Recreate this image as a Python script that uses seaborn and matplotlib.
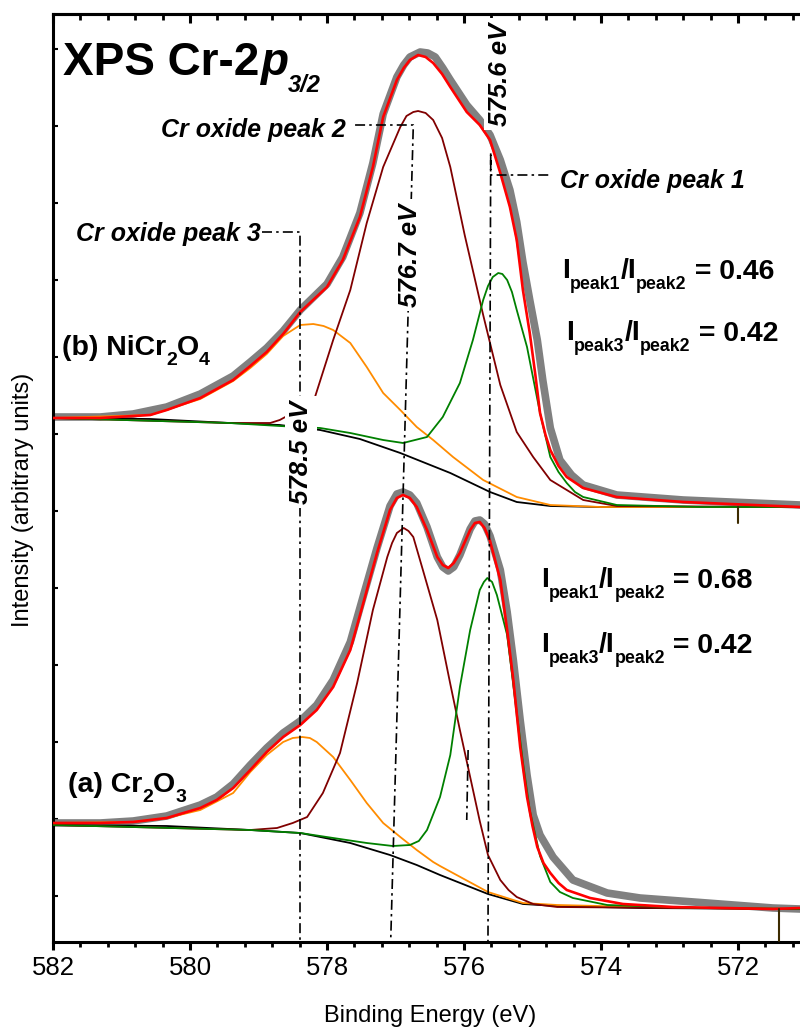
import numpy as np
import matplotlib
matplotlib.use("Agg")
import matplotlib.pyplot as plt
import seaborn as sns
from matplotlib.ticker import MultipleLocator, FixedLocator

# (b) NiCr2O4, upper spectrum
b_data_e = [582.00, 581.31, 580.83, 580.34, 579.85, 579.37, 579.12, 578.88, 578.64, 578.39,
            578.00, 577.77, 577.52, 577.33, 577.18, 576.98, 576.88, 576.79, 576.64, 576.53,
            576.42, 576.31, 576.20, 575.96, 575.77, 575.62, 575.47, 575.33, 575.23, 575.14,
            575.04, 574.93, 574.85, 574.74, 574.60, 574.43, 574.26, 573.77, 572.80, 571.09]
b_data_i = [52.5, 52.5, 52.8, 53.5, 54.8, 56.6, 58.0, 59.4, 61.1, 63.2,
            65.8, 68.5, 72.9, 77.9, 82.8, 86.5, 87.7, 88.5, 89.0, 88.9,
            88.5, 87.4, 86.2, 83.7, 82.2, 80.7, 78.2, 75.2, 72.0, 68.0,
            64.2, 60.2, 56.2, 51.4, 48.2, 46.7, 45.7, 44.7, 44.2, 43.7]

b_fit_e = [582.00, 581.31, 580.58, 580.34, 579.85, 579.37, 579.12, 578.88, 578.64, 578.39,
           578.00, 577.77, 577.52, 577.33, 577.18, 576.98, 576.88, 576.79, 576.67, 576.56,
           576.45, 576.32, 576.20, 575.96, 575.77, 575.62, 575.47, 575.33, 575.23, 575.14,
           575.04, 574.96, 574.89, 574.81, 574.74, 574.62, 574.50, 574.26, 573.77, 572.80,
           571.09]
b_fit_i = [52.4, 52.4, 52.7, 53.2, 54.4, 56.2, 57.6, 59.0, 60.8, 63.0,
           65.5, 68.2, 72.5, 77.5, 82.5, 86.2, 87.4, 88.2, 88.7, 88.5,
           87.9, 86.8, 85.5, 83.0, 81.7, 80.2, 76.9, 73.5, 70.2, 65.2,
           60.9, 56.8, 52.9, 50.7, 49.2, 47.6, 46.5, 45.4, 44.5, 44.0,
           43.5]

b_bg_e = [582.00, 580.58, 579.42, 578.69, 578.10, 577.52, 576.93, 576.20, 575.62, 575.23,
          574.74, 574.01, 571.09]
b_bg_i = [52.4, 52.3, 51.9, 51.7, 51.2, 50.3, 48.9, 46.9, 45.0, 44.0, 43.6, 43.5, 43.5]

b_p3_e = [582.00, 580.58, 579.85, 579.37, 579.12, 578.88, 578.64, 578.39, 578.20, 578.05,
          577.91, 577.66, 577.42, 577.18, 576.93, 576.69, 576.45, 576.16, 575.72, 575.23,
          574.74, 574.01, 571.09]
b_p3_i = [52.4, 52.7, 54.3, 56.1, 57.4, 58.8, 60.6, 61.7, 61.8, 61.6,
          61.2, 59.9, 57.5, 54.9, 53.2, 51.5, 50.2, 48.5, 46.2, 44.5,
          43.7, 43.5, 43.5]

b_p1_e = [582.00, 579.42, 578.69, 578.10, 577.66, 577.18, 576.89, 576.54, 576.31, 576.06,
          575.87, 575.72, 575.65, 575.58, 575.50, 575.44, 575.37, 575.30, 575.23, 575.08,
          574.89, 574.74, 574.62, 574.50, 574.38, 574.26, 573.77, 572.55, 571.09]
b_p1_i = [52.4, 51.9, 51.6, 51.4, 50.9, 50.2, 49.9, 50.5, 52.5, 55.9,
          60.2, 64.2, 65.6, 66.5, 66.9, 66.8, 66.2, 65.0, 63.2, 59.5,
          52.9, 48.5, 47.0, 45.9, 45.0, 44.5, 43.7, 43.5, 43.5]

b_p2_e = [582.00, 579.42, 578.83, 578.69, 578.42, 578.18, 577.91, 577.66, 577.42, 577.18,
          576.93, 576.84, 576.74, 576.67, 576.56, 576.45, 576.32, 576.20, 575.99, 575.72,
          575.47, 575.23, 574.99, 574.74, 574.26, 573.77, 571.09]
b_p2_i = [52.4, 51.9, 51.9, 52.2, 53.2, 54.4, 60.2, 65.2, 71.9, 77.5,
          81.5, 82.6, 83.0, 83.1, 82.9, 82.2, 80.4, 77.5, 70.7, 62.7,
          55.7, 51.0, 48.5, 46.2, 44.2, 43.6, 43.5]

# (a) Cr2O3, lower spectrum
a_data_e = [582.00, 581.31, 580.83, 580.34, 579.85, 579.61, 579.37, 579.12, 578.88, 578.64,
            578.39, 578.15, 577.91, 577.66, 577.47, 577.27, 577.08, 576.98, 576.89, 576.79,
            576.69, 576.54, 576.39, 576.31, 576.23, 576.15, 576.06, 575.91, 575.84, 575.77,
            575.70, 575.62, 575.47, 575.37, 575.28, 575.18, 575.08, 574.99, 574.89, 574.70,
            574.41, 573.91, 573.43, 572.45, 571.49, 571.09]
a_data_i = [11.9, 11.9, 12.1, 12.6, 13.7, 14.5, 15.8, 17.7, 19.4, 20.9,
            22.1, 23.7, 26.2, 30.0, 34.6, 39.4, 43.6, 44.8, 45.0, 44.7,
            43.9, 41.5, 38.5, 37.5, 37.1, 37.5, 38.7, 41.3, 42.1, 42.2,
            41.8, 40.6, 37.2, 33.0, 28.2, 22.2, 16.7, 12.7, 10.7, 8.5,
            6.2, 4.9, 4.4, 3.9, 3.4, 3.3]

a_fit_e = [582.00, 581.31, 580.83, 580.34, 579.85, 579.61, 579.37, 579.12, 578.88, 578.64,
           578.39, 578.15, 577.91, 577.66, 577.47, 577.27, 577.08, 576.98, 576.89, 576.79,
           576.69, 576.54, 576.39, 576.31, 576.23, 576.15, 576.06, 575.91, 575.84, 575.77,
           575.70, 575.62, 575.47, 575.37, 575.28, 575.18, 575.08, 575.00, 574.93, 574.84,
           574.74, 574.62, 574.50, 574.16, 573.68, 572.95, 571.49, 571.09]
a_fit_i = [11.9, 11.9, 12.0, 12.4, 13.4, 14.2, 15.4, 17.2, 19.0, 20.5,
           21.7, 23.2, 25.5, 29.2, 33.9, 38.9, 43.2, 44.4, 44.7, 44.4,
           43.5, 41.2, 38.5, 37.7, 37.4, 37.9, 38.9, 41.2, 41.9, 42.0,
           41.4, 40.1, 36.2, 31.2, 26.2, 19.5, 14.5, 11.6, 9.5, 7.9,
           6.9, 5.9, 5.2, 4.4, 3.8, 3.5, 3.3, 3.4]

a_bg_e = [582.00, 580.34, 579.12, 578.39, 577.66, 577.08, 576.69, 576.35, 575.65, 575.14,
          574.64, 573.43, 571.09]
a_bg_i = [11.7, 11.6, 11.2, 10.9, 9.9, 8.7, 7.7, 6.7, 4.8, 3.8, 3.6, 3.4, 3.3]

a_p3_e = [582.00, 580.83, 580.34, 579.85, 579.37, 579.12, 578.88, 578.64, 578.50, 578.36,
          578.25, 578.15, 577.91, 577.66, 577.42, 577.18, 576.93, 576.69, 576.45, 576.35,
          575.65, 575.14, 574.64, 573.43, 571.09]
a_p3_i = [11.9, 12.0, 12.4, 13.2, 14.9, 17.0, 18.7, 20.0, 20.4, 20.5,
          20.4, 20.0, 18.5, 16.2, 13.9, 11.9, 10.5, 9.2, 8.0, 7.6,
          5.0, 3.9, 3.7, 3.5, 3.3]

a_p1_e = [582.00, 579.12, 578.39, 577.91, 577.42, 577.04, 576.79, 576.66, 576.54, 576.35,
          576.20, 576.06, 575.91, 575.77, 575.71, 575.66, 575.59, 575.52, 575.37, 575.23,
          575.14, 575.04, 574.89, 574.74, 574.60, 574.41, 573.91, 572.55, 571.09]
a_p1_i = [11.7, 11.2, 10.9, 10.4, 9.9, 9.6, 9.7, 10.1, 11.2, 14.5,
          18.7, 25.5, 31.2, 35.2, 36.0, 36.4, 36.0, 34.7, 30.7, 23.0,
          18.0, 13.2, 8.6, 6.0, 5.0, 4.4, 3.7, 3.4, 3.3]

a_p2_e = [582.00, 579.12, 578.73, 578.50, 578.29, 578.06, 577.81, 577.56, 577.33, 577.12,
          577.05, 576.98, 576.88, 576.81, 576.74, 576.60, 576.39, 576.20, 576.06, 575.91,
          575.77, 575.65, 575.47, 575.35, 575.23, 574.99, 574.64, 571.09]
a_p2_i = [11.7, 11.2, 11.4, 11.9, 12.5, 14.9, 18.9, 25.9, 33.2, 38.5,
          39.9, 40.9, 41.4, 41.1, 40.5, 37.2, 32.2, 25.8, 21.2, 16.5,
          12.1, 8.7, 6.2, 5.2, 4.5, 3.8, 3.5, 3.3]

# guide lines (energy, intensity)
peak3_guide_e = [578.95, 578.39, 578.39]
peak3_guide_i = [71.0, 71.0, 0.1]
peak2_guide_e = [577.59, 576.74, 577.07]
peak2_guide_i = [81.7, 81.7, 0.1]
peak1_guide_e = [574.77, 575.61, 575.61, 575.65]
peak1_guide_i = [76.7, 76.7, 79.0, 0.1]
stray_guide_e = [575.94, 575.96]
stray_guide_i = [19.2, 12.2]
stray_mark_b_e = [572.00, 572.00]
stray_mark_b_i = [43.5, 41.9]
stray_mark_a_e = [571.40, 571.40]
stray_mark_a_i = [3.3, 0.1]

x_tick_labels = [582, 580, 578, 576, 574, 572]

sns.set_style("ticks")
plt.rcParams["font.family"] = ["Liberation Sans", "DejaVu Sans"]
for k in ["text.color", "axes.labelcolor", "xtick.color", "ytick.color", "axes.edgecolor"]:
    plt.rcParams[k] = "black"

fig = plt.figure(figsize=(8, 10.3), dpi=100)
ax = fig.add_axes([53 / 800, 88 / 1030, 822 / 800, 928 / 1030])


def curve(e, i, color, lw, z):
    sns.lineplot(x=e, y=i, ax=ax, color=color, linewidth=lw, sort=False,
                 estimator=None, zorder=z, solid_capstyle="round",
                 solid_joinstyle="round")


def rich(x, y, parts, fs, sub_fs, drop, **kw):
    # chain text pieces; subscripts sit `drop` points under the baseline
    desc = 0.21
    prev = ax.text(x, y, parts[0][0], fontsize=fs, ha="left", va="baseline", **kw)
    prev_sub = False
    for s, sub in parts[1:]:
        pf = sub_fs if prev_sub else fs
        bottom = (-drop if prev_sub else 0) - desc * pf
        dy = (-drop if sub else 0) - bottom
        prev = ax.annotate(s, xy=(1, 0), xycoords=prev, xytext=(0, dy),
                           textcoords="offset points", fontsize=sub_fs if sub else fs,
                           ha="left", va="baseline", **kw)
        prev_sub = sub


for d in [(b_data_e, b_data_i, b_fit_e, b_fit_i, b_bg_e, b_bg_i, b_p3_e, b_p3_i,
           b_p2_e, b_p2_i, b_p1_e, b_p1_i),
          (a_data_e, a_data_i, a_fit_e, a_fit_i, a_bg_e, a_bg_i, a_p3_e, a_p3_i,
           a_p2_e, a_p2_i, a_p1_e, a_p1_i)]:
    curve(d[0], d[1], "#808080", 5.5, 2)
    curve(d[4], d[5], "black", 1.3, 3)
    curve(d[6], d[7], "#ff8c00", 1.3, 3)
    curve(d[8], d[9], "#800000", 1.3, 3)
    curve(d[10], d[11], "#008000", 1.3, 3)
    curve(d[2], d[3], "#ff0000", 1.9, 4)

dd = (0, (6, 2.5, 1.5, 2.5))
for ge, gi in [(peak3_guide_e, peak3_guide_i), (peak2_guide_e, peak2_guide_i),
               (peak1_guide_e, peak1_guide_i), (stray_guide_e, stray_guide_i)]:
    ax.plot(ge, gi, color="black", lw=1.2, linestyle=dd, zorder=5)
for ge, gi in [(stray_mark_b_e, stray_mark_b_i), (stray_mark_a_e, stray_mark_a_i)]:
    ax.plot(ge, gi, color="#3d2b00", lw=1.5, zorder=5)

ax.set_xlim(582, 570)
ax.set_ylim(0, 92.8)

# title
t1 = ax.text(581.85, 86.7, "XPS Cr-2", fontsize=33, fontweight="bold",
             ha="left", va="baseline", zorder=7)
t2 = ax.annotate("p", xy=(1, 0), xycoords=t1, xytext=(0, 0), textcoords="offset points",
                 fontsize=33, fontweight="bold", fontstyle="italic",
                 ha="left", va="bottom", zorder=7)
ax.annotate("3/2", xy=(1, 0), xycoords=t2, xytext=(0, -5), textcoords="offset points",
            fontsize=17, fontweight="bold", fontstyle="italic",
            ha="left", va="baseline", zorder=7)

bold = dict(fontweight="bold", zorder=7)
rich(581.87, 58.7, [("(b) NiCr", False), ("2", True), ("O", False), ("4", True)],
     20.5, 14, 7.5, **bold)
rich(581.78, 15.0, [("(a) Cr", False), ("2", True), ("O", False), ("3", True)],
     20.5, 14, 7.0, **bold)

lab = dict(fontsize=18, fontweight="bold", fontstyle="italic", va="baseline", zorder=7)
ax.text(577.72, 80.5, "Cr oxide peak 2", ha="right", **lab)
ax.text(578.96, 70.1, "Cr oxide peak 3", ha="right", **lab)
ax.text(574.60, 75.4, "Cr oxide peak 1", ha="left", **lab)

ev = dict(fontsize=18.5, fontweight="bold", fontstyle="italic", rotation=90,
          ha="center", va="center", zorder=6,
          bbox=dict(facecolor="white", edgecolor="none", pad=3))
ax.text(575.47, 86.8, "575.6 eV", **ev)
ax.text(576.79, 68.7, "576.7 eV", **ev)
ax.text(578.38, 49.0, "578.5 eV", **ev)

for x0, y0, p, v in [(574.57, 66.4, "1", "0.46"), (574.51, 60.2, "3", "0.42"),
                     (574.88, 35.5, "1", "0.68"), (574.88, 29.0, "3", "0.42")]:
    rich(x0, y0, [("I", False), ("peak" + p, True), ("/I", False), ("peak2", True),
                  (" = " + v, False)], 20.5, 12.8, 8.0, **bold)

# axes styling
for s in ["left", "bottom", "top"]:
    ax.spines[s].set_linewidth(2.2)
    ax.spines[s].set_color("black")
ax.spines["right"].set_visible(False)

ax.xaxis.set_major_locator(FixedLocator(x_tick_labels))
ax.xaxis.set_minor_locator(MultipleLocator(0.4))
ax.tick_params(axis="x", which="major", direction="out", length=6, width=2.2,
               labelsize=18.5, pad=4, top=False)
ax.tick_params(axis="x", which="minor", direction="out", length=3.5, width=2.0, top=False)

top = ax.secondary_xaxis("top")
top.xaxis.set_major_locator(MultipleLocator(2))
top.xaxis.set_minor_locator(MultipleLocator(0.4))
top.tick_params(axis="x", which="major", direction="in", length=6.5, width=2.2, labeltop=False)
top.tick_params(axis="x", which="minor", direction="in", length=4, width=2.0)
top.spines["top"].set_linewidth(2.2)

ax.yaxis.set_major_locator(FixedLocator(np.arange(4.6, 92, 7.7)))
ax.tick_params(axis="y", which="major", direction="in", length=3.5, width=1.5,
               labelleft=False)
ax.set_xlabel("")
ax.set_ylabel("")

fig.text(430 / 800, (1030 - 1022) / 1030, "Binding Energy (eV)", fontsize=17,
         ha="center", va="baseline")
fig.text(23 / 800, 1 - 500 / 1030, "Intensity (arbitrary units)", fontsize=17,
         rotation=90, ha="center", va="center")

fig.savefig("out.png", dpi=100)
